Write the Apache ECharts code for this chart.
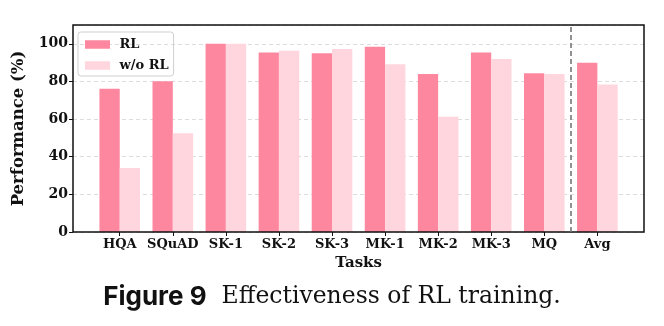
<!doctype html>
<html lang="en">
<head>
    <meta charset="utf-8">
    <title>Effectiveness of RL training</title>
    <script src="https://cdn.jsdelivr.net/npm/echarts@6/dist/echarts.min.js"></script>
    <style>
        html, body { margin: 0; padding: 0; background: #fff; }
        #main { width: 664px; height: 326px; }
    </style>
</head>
<body>
    <div id="main"></div>
    <script>
        // data
        var tasks = ['HQA', 'SQuAD', 'SK-1', 'SK-2', 'SK-3', 'MK-1', 'MK-2', 'MK-3', 'MQ', 'Avg'];
        var rl    = [76.1, 80.1, 100, 95.4, 95.0, 98.4, 83.9, 95.4, 84.4, 89.9];
        var noRl  = [34.0, 52.5, 100, 96.3, 97.2, 89.2, 61.3, 91.9, 83.9, 78.4];
        var yTicks = [0, 20, 40, 60, 80, 100];

        var serif = 'DejaVu Serif';
        var myChart = echarts.init(document.getElementById('main'));

        var option = {
            animation: false,
            title: {
                left: 'center',
                top: 279,
                text: '{a|Figure 9}   {b|Effectiveness of RL training.}',
                textStyle: {
                    rich: {
                        a: { fontFamily: 'Inter', fontWeight: 'bold', fontSize: 26, color: '#111' },
                        b: { fontFamily: serif, fontWeight: 'normal', fontSize: 23.5, color: '#111' }
                    }
                }
            },
            legend: {
                orient: 'vertical',
                left: 78,
                top: 32,
                itemWidth: 25,
                itemHeight: 8.5,
                itemGap: 8,
                padding: [6, 5, 4, 7],
                borderColor: '#cfcfcf',
                borderWidth: 1,
                borderRadius: 3,
                icon: 'rect',
                formatter: function (name) { return ' ' + name; },
                textStyle: { fontFamily: serif, fontWeight: 'bold', fontSize: 13, color: '#111' },
                data: ['RL', 'w/o RL']
            },
            grid: [
                { left: 73, right: 20, top: 25, bottom: 94, show: true, z: 3, borderColor: '#111', borderWidth: 1.5, backgroundColor: 'transparent' },
                { left: 93.2, right: 40.1, top: 25, bottom: 94 }
            ],
            xAxis: [
                { gridIndex: 0, type: 'value', min: -0.88, max: 9.88, show: false },
                {
                    gridIndex: 1,
                    type: 'category',
                    data: tasks,
                    name: 'Tasks',
                    nameLocation: 'middle',
                    nameGap: 22,
                    nameTextStyle: { fontFamily: serif, fontWeight: 'bold', fontSize: 15, color: '#111' },
                    axisLine: { show: false },
                    axisTick: { show: true, interval: 0, alignWithLabel: true, length: 4, lineStyle: { color: '#111' } },
                    axisLabel: { interval: 0, fontFamily: serif, fontWeight: 'bold', fontSize: 13, color: '#111', margin: 6 }
                }
            ],
            yAxis: [
                {
                    gridIndex: 0,
                    type: 'value',
                    min: 0,
                    max: 110,
                    interval: 20,
                    name: 'Performance (%)',
                    nameLocation: 'middle',
                    nameGap: 46,
                    nameRotate: 90,
                    nameTextStyle: { fontFamily: serif, fontWeight: 'bold', fontSize: 16.5, color: '#111' },
                    axisLine: { show: false, onZero: false },
                    axisTick: { show: true, length: 4, lineStyle: { color: '#111' } },
                    axisLabel: {
                        showMaxLabel: false,
                        fontFamily: serif, fontWeight: 'bold', fontSize: 14, color: '#111', margin: 5,
                        formatter: function (v) { return yTicks.indexOf(v) >= 0 ? String(v) : ''; }
                    },
                    splitLine: { show: true, lineStyle: { color: '#dcdcdc', type: [4, 3], width: 1 } }
                },
                { gridIndex: 1, type: 'value', min: 0, max: 110, show: false }
            ],
            series: [
                {
                    name: 'RL',
                    type: 'bar',
                    xAxisIndex: 1,
                    yAxisIndex: 1,
                    barWidth: 20.3,
                    barGap: '0%',
                    itemStyle: { color: '#fe87a0' },
                    data: rl
                },
                {
                    name: 'w/o RL',
                    type: 'bar',
                    xAxisIndex: 1,
                    yAxisIndex: 1,
                    barWidth: 20.3,
                    barGap: '0%',
                    itemStyle: { color: '#ffd6de' },
                    data: noRl
                },
                {
                    // separator between tasks and the average
                    type: 'line',
                    xAxisIndex: 0,
                    yAxisIndex: 0,
                    data: [],
                    markLine: {
                        silent: true,
                        symbol: 'none',
                        label: { show: false },
                        lineStyle: { color: '#777', type: [5, 3], width: 1.6 },
                        data: [{ xAxis: 8.5 }]
                    }
                }
            ]
        };

        myChart.setOption(option);
    </script>
</body>
</html>
